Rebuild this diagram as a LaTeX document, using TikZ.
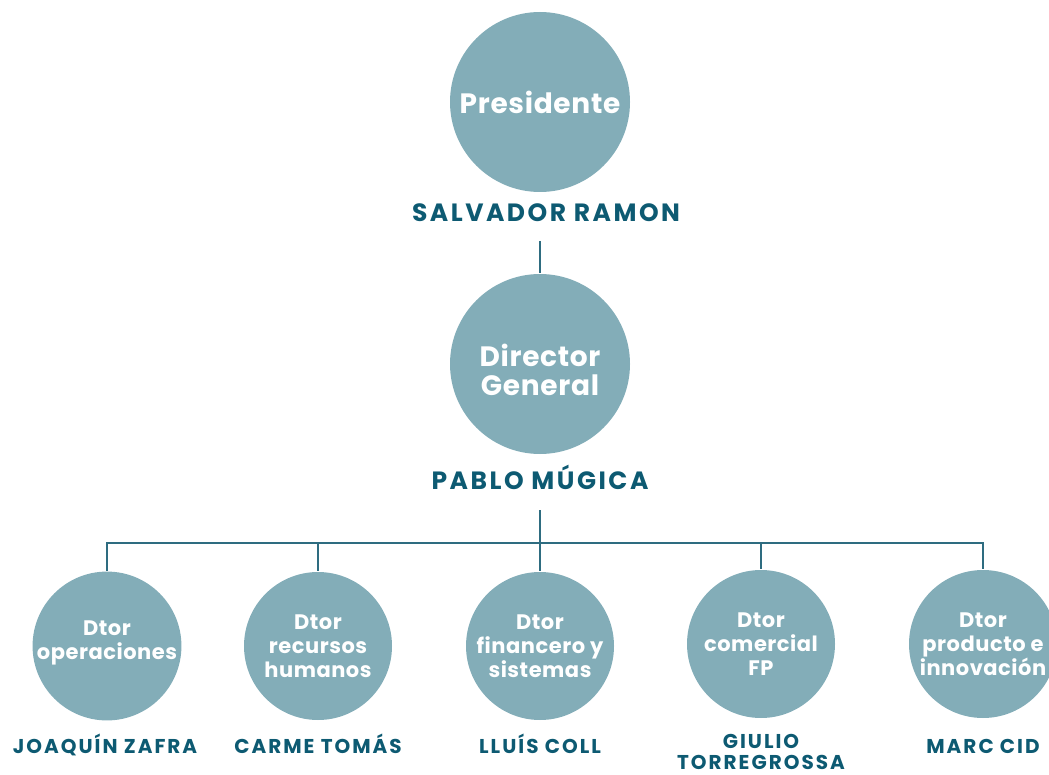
\documentclass[tikz,border=0pt]{standalone}
\usepackage{fontspec}
\setmainfont{Poppins}
\newfontfamily\circfont{Poppins}[LetterSpace=2.5]
\newfontfamily\namefont{Poppins}[LetterSpace=10]
\usepackage{tikz}
\usetikzlibrary{positioning}
\definecolor{circfill}{HTML}{83ADB8}
\definecolor{nametext}{HTML}{0D5A72}
\definecolor{linecol}{HTML}{2E6C80}

\begin{document}
\begin{tikzpicture}[x=1pt,y=-1pt,line width=1.4pt,draw=linecol,
  big/.style={circle,fill=circfill,minimum size=180pt,inner sep=0pt,text=white,
              align=center,font=\circfont\fontsize{28}{29}\selectfont\bfseries},
  small/.style={circle,fill=circfill,minimum size=148pt,inner sep=0pt,text=white,
                align=center,font=\circfont\fontsize{21}{24}\selectfont\bfseries},
  person/.style={text=nametext,anchor=base,align=center,
                 font=\namefont\fontsize{25}{28}\selectfont\bfseries},
  sperson/.style={person,font=\namefont\fontsize{20}{21}\selectfont\bfseries}]

 \useasboundingbox (0,0) rectangle (1049,775);

 \node[big,text height=63pt,text depth=0pt] (dg) at (540,364) {Director\\General};
 \node[big] (pres) at (540,102) {Presidente};

 \node[small,text depth=12pt] (ops) at (107,646) {Dtor\\operaciones};
 \node[small] (rrhh) at (318,646) {Dtor\\recursos\\humanos};
 \node[small] (fin)  at (540,646) {Dtor\\financero y\\sistemas};
 \node[small] (com)  at (761,644) {Dtor\\comercial\\FP};
 \node[small] (prod) at (983,644) {Dtor\\producto e\\innovación};

 \node[person] (salvador) at (546,222) {SALVADOR RAMON};
 \node[person] (pablo)    at (540,489) {PABLO MÚGICA};

 \node[sperson] (joaquin) at (105,753) {JOAQUÍN ZAFRA};
 \node[sperson] (carme)   at (318,753) {CARME TOMÁS};
 \node[sperson] (lluis)   at (540,753) {LLUÍS COLL};
 \node[sperson] (giulio)  at (761,769) {GIULIO\\TORREGROSSA};
 \node[sperson] (marc)    at (983,753) {MARC CID};

 \coordinate (up)  at (540,241);
 \coordinate (low) at (540,510);
 \coordinate (bar) at (540,543);

 \draw[linecol] (up) -- (dg);
 \draw[linecol] (low) -- (bar);
 \path[draw=linecol] (bar) -| (ops)
                     (bar) -| (rrhh)
                     (bar) -- (fin)
                     (bar) -| (com)
                     (bar) -| (prod);

\end{tikzpicture}
\end{document}
